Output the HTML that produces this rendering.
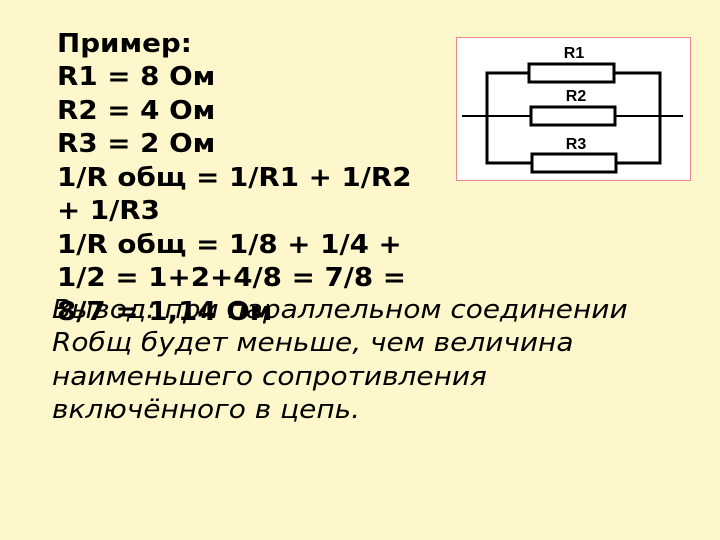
<!DOCTYPE html>
<html><head><meta charset="utf-8"><style>
body{margin:0;width:720px;height:540px;background:#fdf7cb;position:relative;overflow:hidden;font-family:"DejaVu Sans",sans-serif}
.b{position:absolute;left:57px;top:27.5px;font-weight:bold;font-size:26px;line-height:33.5px;color:#000;white-space:pre;transform:scaleX(1.066);transform-origin:0 0}
.i{position:absolute;left:52px;top:293.5px;font-style:italic;font-size:26px;line-height:33.5px;color:#000;white-space:pre;transform:scaleX(1.075);transform-origin:0 0}
</style></head><body>
<div class="b">Пример:
R1 = 8 Ом
R2 = 4 Ом
R3 = 2 Ом
1/R общ = 1/R1 + 1/R2
+ 1/R3
1/R общ = 1/8 + 1/4 +
1/2 = 1+2+4/8 = 7/8 =
8/7 = 1,14 Ом</div>
<div class="i">Вывод: при параллельном соединении
Rобщ будет меньше, чем величина
наименьшего сопротивления
включённого в цепь.</div>
<svg style="position:absolute;left:0;top:0" width="720" height="540">
<rect x="456.5" y="37.5" width="234" height="143" fill="#fff" stroke="#e88" stroke-width="1"/>
<g stroke="#000" stroke-width="3" fill="none">
<polyline points="529,73 487,73 487,163 532,163"/>
<polyline points="614,73 660,73 660,163 616,163"/>
<line x1="462" y1="116" x2="531" y2="116" stroke-width="2"/>
<line x1="615" y1="116" x2="683" y2="116" stroke-width="2"/>
<rect x="529" y="64" width="85" height="18" fill="#fff"/>
<rect x="531" y="107" width="84" height="18" fill="#fff"/>
<rect x="532" y="154" width="84" height="18" fill="#fff"/>
</g>
<g font-family="Liberation Sans,sans-serif" font-weight="bold" font-size="16" text-anchor="middle">
<text x="574" y="58">R1</text><text x="576" y="101">R2</text><text x="576" y="149">R3</text>
</g>
</svg>
</body></html>
